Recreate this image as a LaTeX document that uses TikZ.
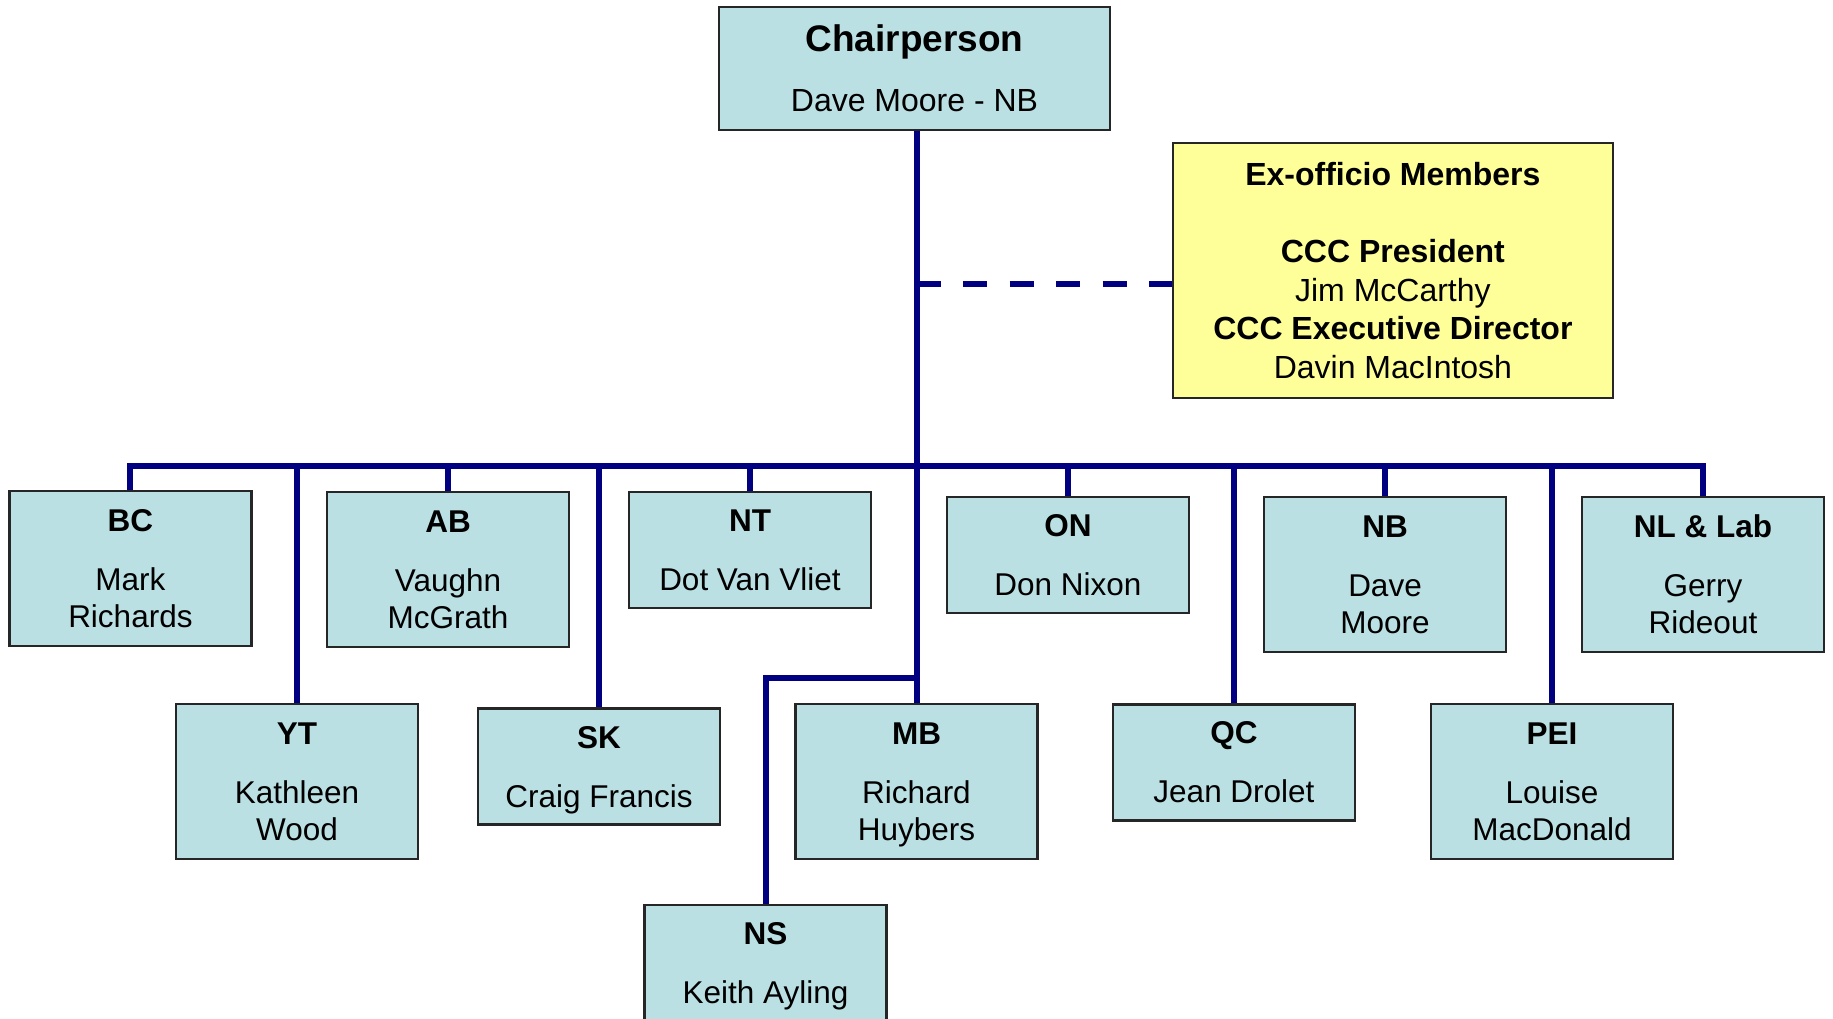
\documentclass[tikz,border=0pt]{standalone}
\usepackage{fontspec}
\setmainfont{Liberation Sans}
\definecolor{navyc}{RGB}{0,0,128}
\definecolor{boxblue}{RGB}{187,224,227}
\definecolor{boxyellow}{RGB}{255,255,153}
\begin{document}
\begin{tikzpicture}[x=1pt,y=-1pt,
  conn/.style={draw=navyc, line width=6pt, line join=miter},
  box/.style={draw=black!85, line width=2.4pt, fill=boxblue, minimum width=242pt,
    align=center, inner sep=0pt, text depth=0pt, font=\fontsize{31.5}{37}\selectfont},
  tallbox/.style={box, minimum height=155pt},
  shortbox/.style={box, minimum height=116pt}]
\useasboundingbox (0,0) rectangle (1833,1018);
\clip (0,0) rectangle (1833,1018);

% coordinates
\coordinate (bus) at (916.5,466.4);
\coordinate (dashstart) at (916.5,284);
\coordinate (nsjoin) at (916.5,678);

% top boxes
\node[box, minimum width=391pt, minimum height=123pt, font=\fontsize{32}{38}\selectfont] (chair) at (914.5,68.4)
  {{\fontsize{37}{38}\selectfont\textbf{Chairperson}}\\[22pt]Dave Moore - NB};
\node[box, fill=boxyellow, minimum width=440pt, minimum height=255pt, font=\fontsize{32}{38.6}\selectfont] (ex) at (1392.9,270.4)
  {\textbf{Ex-officio Members}\\[38.6pt]\textbf{CCC President}\\Jim McCarthy\\\textbf{CCC Executive Director}\\Davin MacIntosh};

% first row
\node[tallbox] (BC) at (130.4,568.75) {\textbf{BC}\\[22pt]Mark\\Richards};
\node[tallbox] (AB) at (448,569.25) {\textbf{AB}\\[22pt]Vaughn\\McGrath};
\node[shortbox] (NT) at (750,550) {\textbf{NT}\\[22pt]Dot Van Vliet};
\node[shortbox] (ON) at (1068,554.75) {\textbf{ON}\\[22pt]Don Nixon};
\node[tallbox] (NB) at (1385,574.5) {\textbf{NB}\\[22pt]Dave\\Moore};
\node[tallbox] (NL) at (1703,574.5) {\textbf{NL \& Lab}\\[22pt]Gerry\\Rideout};

% second row
\node[tallbox] (YT) at (297,781.5) {\textbf{YT}\\[22pt]Kathleen\\Wood};
\node[shortbox] (SK) at (599,766.5) {\textbf{SK}\\[22pt]Craig Francis};
\node[tallbox] (MB) at (916.5,781.5) {\textbf{MB}\\[22pt]Richard\\Huybers};
\node[shortbox] (QC) at (1234,762.3) {\textbf{QC}\\[22pt]Jean Drolet};
\node[tallbox] (PEI) at (1552,781.5) {\textbf{PEI}\\[22pt]Louise\\MacDonald};

% third row
\node[shortbox] (NS) at (765.5,963) {\textbf{NS}\\[22pt]Keith Ayling};

% connectors
\draw[conn] (MB.north |- chair.south) -- (MB.north);
\draw[conn, dash pattern=on 24pt off 22.5pt] (dashstart) -- (dashstart -| ex.west);
\draw[conn] (BC.north) -- (BC.north |- bus) -- (NL.north |- bus) -- (NL.north);
\foreach \n in {AB,NT,ON,NB,YT,SK,QC,PEI}
  \draw[conn] (\n.north |- bus) -- (\n.north);
\draw[conn] (nsjoin) -- (nsjoin -| NS.north) -- (NS.north);
\end{tikzpicture}
\end{document}
